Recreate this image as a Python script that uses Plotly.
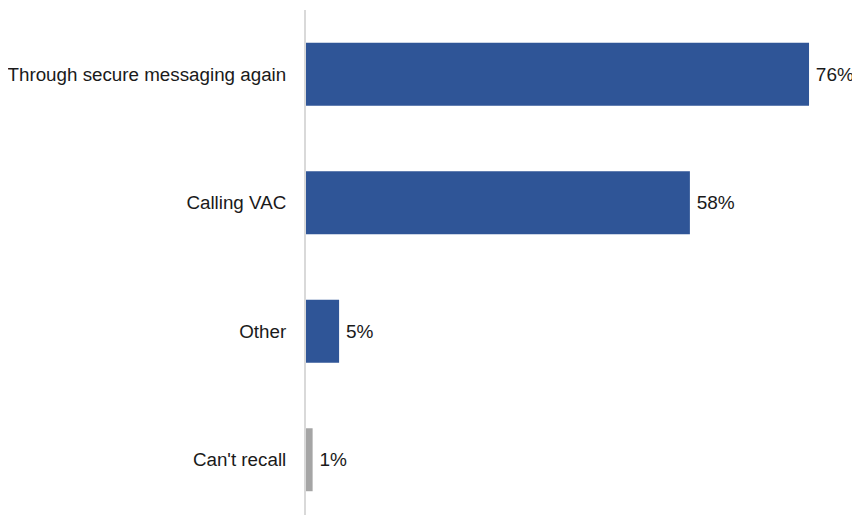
import plotly.graph_objects as go

categories = ["Through secure messaging again", "Calling VAC", "Other", "Can't recall"]
values = [76, 58, 5, 1]
labels = ["\u200976%", "\u200958%", "\u20095%", "\u20091%"]
colors = ["#2F5597", "#2F5597", "#2F5597", "#A5A5A5"]

fig = go.Figure(go.Bar(
    y=categories, x=values, orientation="h",
    marker=dict(color=colors, line=dict(width=0)),
    width=0.49,
    text=labels, textposition="outside",
    textfont=dict(family="Liberation Sans, Arial", size=19, color="#1a1a1a"),
    cliponaxis=False,
))
fig.update_layout(
    width=852, height=507,
    margin=dict(l=298, r=0, t=2, b=0, autoexpand=False),
    plot_bgcolor="white", paper_bgcolor="white",
    showlegend=False,
    bargap=0.51,
    xaxis=dict(range=[0, 83.7], visible=False, showgrid=False, zeroline=False,
               automargin=False),
    yaxis=dict(range=[3.43, -0.5], showgrid=False, zeroline=False, automargin=False,
               showline=True, linecolor="#D9D9D9", linewidth=2,
               ticks="", ticklabelstandoff=14,
               tickfont=dict(family="Liberation Sans, Arial", size=18.8, color="#1a1a1a")),
)
fig.write_html("out.html")
